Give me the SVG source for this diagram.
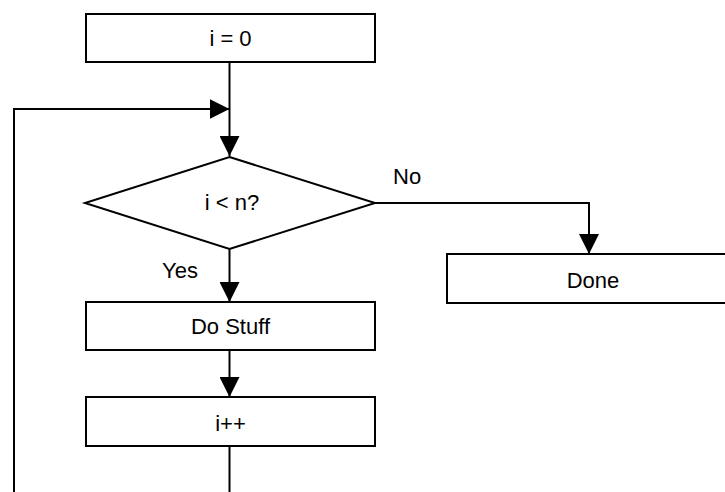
<svg xmlns="http://www.w3.org/2000/svg" width="725" height="492" viewBox="0 0 725 492">
<style>
.node{fill:#fff;stroke:#000;stroke-width:2}
.lbl{font-family:"Liberation Sans",Arial,sans-serif;font-size:22px;fill:#000}
.c{text-anchor:middle}
.edge{fill:none;stroke:#000;stroke-width:2}
</style>
<defs>
<marker id="ah" viewBox="0 0 20 20" refX="20" refY="10" markerWidth="20" markerHeight="20" markerUnits="userSpaceOnUse" orient="auto">
<path d="M0,0 L20,10 L0,20 Z" fill="#000"/>
</marker>
</defs>
<rect width="725" height="492" fill="#fff"/>
<g id="connectors">
<path class="edge" d="M229.5,62 V156" marker-end="url(#ah)"/>
<path class="edge" d="M229.5,446 V492 M14,492 V109 H229.5" marker-end="url(#ah)"/>
<path class="edge" d="M375,203 H589 V254" marker-end="url(#ah)"/>
<path class="edge" d="M229.5,249 V302" marker-end="url(#ah)"/>
<path class="edge" d="M229.5,350 V397" marker-end="url(#ah)"/>
<text class="lbl" x="393" y="184">No</text>
<text class="lbl" x="162" y="278">Yes</text>
</g>
<g id="init">
<rect class="node" x="86" y="14" width="289" height="48"/>
<text class="lbl c" x="230.5" y="46">i = 0</text>
</g>
<g id="cond">
<polygon class="node" points="229.5,157 375,203 229.5,249 85,203"/>
<text class="lbl c" x="232" y="210">i &lt; n?</text>
</g>
<g id="done">
<rect class="node" x="447" y="254" width="292" height="49"/>
<text class="lbl c" x="593" y="288">Done</text>
</g>
<g id="dostuff">
<rect class="node" x="86" y="302" width="289" height="48"/>
<text class="lbl c" x="230.5" y="334">Do Stuff</text>
</g>
<g id="incr">
<rect class="node" x="86" y="397" width="289" height="49"/>
<text class="lbl c" x="230.5" y="431">i++</text>
</g>
</svg>
